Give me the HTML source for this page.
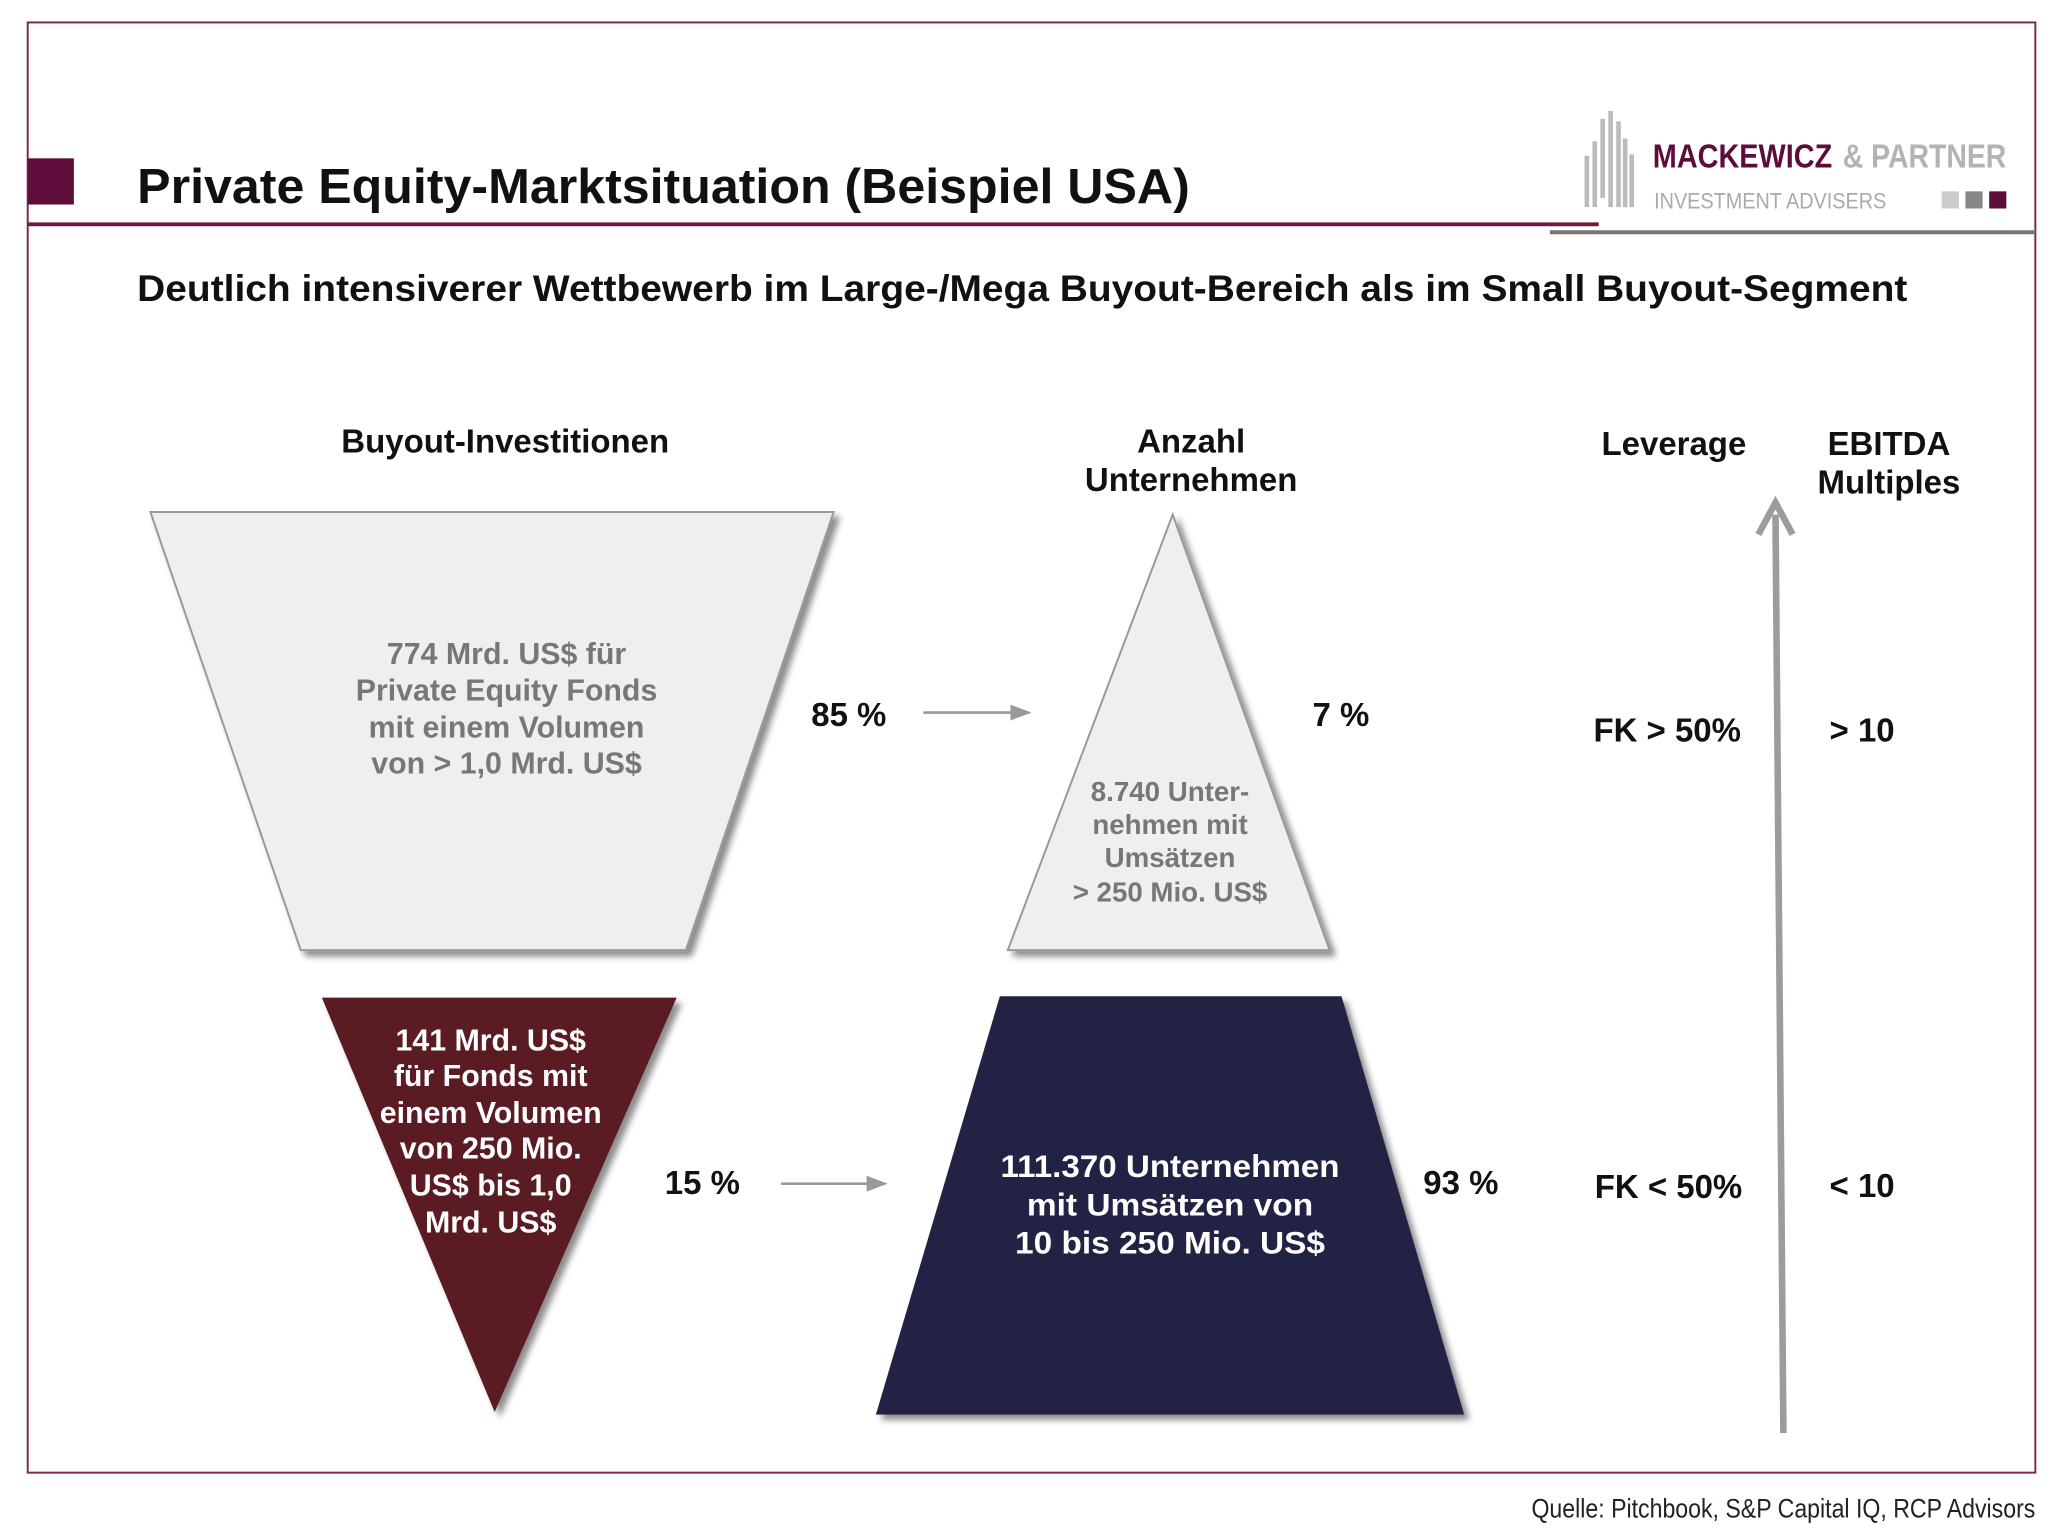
<!DOCTYPE html>
<html><head><meta charset="utf-8"><style>html,body{margin:0;padding:0;background:#fff}svg{display:block}</style></head><body>
<svg width="2067" height="1536" viewBox="0 0 1567 1164" preserveAspectRatio="none" xmlns="http://www.w3.org/2000/svg" font-family="Liberation Sans, sans-serif">
<defs><filter id="sh" x="-10%" y="-10%" width="130%" height="130%"><feDropShadow dx="4" dy="4" stdDeviation="2.5" flood-color="#000" flood-opacity="0.45"/></filter>
<marker id="ah" markerWidth="8" markerHeight="8" refX="7" refY="4" orient="auto"><path d="M0,1 L8,4 L0,7 z" fill="#999"/></marker></defs>
<rect x="21" y="17" width="1522" height="1099" fill="none" stroke="#7a2a55" stroke-width="1.5"/>
<rect x="21" y="120" width="35" height="35" fill="#5e0d3a"/>
<text x="104" y="154" font-size="37" font-weight="bold" fill="#111" textLength="798" lengthAdjust="spacingAndGlyphs">Private Equity-Marktsituation (Beispiel USA)</text>
<line x1="21" y1="170" x2="1212" y2="170" stroke="#6d1c45" stroke-width="3"/>
<line x1="1175" y1="176" x2="1543" y2="176" stroke="#777" stroke-width="3"/>
<g stroke="#bbb" stroke-width="3.5">
<line x1="1203" y1="157" x2="1203" y2="118"/><line x1="1209" y1="157" x2="1209" y2="107"/><line x1="1215" y1="150" x2="1215" y2="90"/><line x1="1221" y1="157" x2="1221" y2="84"/><line x1="1227" y1="157" x2="1227" y2="92"/><line x1="1232" y1="157" x2="1232" y2="105"/><line x1="1237" y1="157" x2="1237" y2="117"/></g>
<text x="1253" y="127" font-size="25" font-weight="bold" fill="#5e0d3a" textLength="136" lengthAdjust="spacingAndGlyphs">MACKEWICZ</text>
<text x="1397" y="127" font-size="25" font-weight="bold" fill="#b3b3b3" textLength="124" lengthAdjust="spacingAndGlyphs">&amp; PARTNER</text>
<text x="1254" y="158" font-size="17" fill="#aaa" textLength="176" lengthAdjust="spacingAndGlyphs">INVESTMENT ADVISERS</text>
<rect x="1472" y="145" width="13" height="13" fill="#ccc"/><rect x="1490" y="145" width="13" height="13" fill="#888"/><rect x="1508" y="145" width="13" height="13" fill="#5e0d3a"/>
<text x="104" y="228" font-size="28" font-weight="bold" fill="#111" textLength="1342" lengthAdjust="spacingAndGlyphs">Deutlich intensiverer Wettbewerb im Large-/Mega Buyout-Bereich als im Small Buyout-Segment</text>
<g font-size="25" font-weight="bold" fill="#111" text-anchor="middle">
<text x="383" y="343">Buyout-Investitionen</text>
<text x="903" y="343">Anzahl</text><text x="903" y="372">Unternehmen</text>
<text x="1269" y="345">Leverage</text>
<text x="1432" y="345">EBITDA</text><text x="1432" y="374">Multiples</text>
</g>
<polygon points="114,388 632,388 520,720 228,720" fill="#efefef" stroke="#999" stroke-width="1.5" filter="url(#sh)"/>
<polygon points="244,756 513,756 375,1070" fill="#5a1e22" filter="url(#sh)"/>
<polygon points="889,390 1008,720 764,720" fill="#efefef" stroke="#999" stroke-width="1.5" filter="url(#sh)"/>
<polygon points="758,755 1017,755 1110,1072 664,1072" fill="#232244" filter="url(#sh)"/>
<g font-size="23" font-weight="bold" fill="#777" text-anchor="middle">
<text x="384" y="503">774 Mrd. US$ für</text><text x="384" y="531">Private Equity Fonds</text><text x="384" y="559">mit einem Volumen</text><text x="384" y="586">von &gt; 1,0 Mrd. US$</text></g>
<g font-size="21" font-weight="bold" fill="#777" text-anchor="middle">
<text x="887" y="607">8.740 Unter-</text><text x="887" y="632">nehmen mit</text><text x="887" y="657">Umsätzen</text><text x="887" y="683">&gt; 250 Mio. US$</text></g>
<g font-size="23" font-weight="bold" fill="#fff" text-anchor="middle">
<text x="372" y="796">141 Mrd. US$</text><text x="372" y="823">für Fonds mit</text><text x="372" y="851">einem Volumen</text><text x="372" y="878">von 250 Mio.</text><text x="372" y="906">US$ bis 1,0</text><text x="372" y="934">Mrd. US$</text></g>
<g font-size="24" font-weight="bold" fill="#fff" text-anchor="middle">
<text x="887" y="892" textLength="257" lengthAdjust="spacingAndGlyphs">111.370 Unternehmen</text><text x="887" y="921" textLength="217" lengthAdjust="spacingAndGlyphs">mit Umsätzen von</text><text x="887" y="950" textLength="235" lengthAdjust="spacingAndGlyphs">10 bis 250 Mio. US$</text></g>
<g font-size="25" font-weight="bold" fill="#111">
<text x="615" y="550">85 %</text><text x="995" y="550">7 %</text>
<text x="504" y="905">15 %</text><text x="1079" y="905">93 %</text>
<text x="1208" y="562">FK &gt; 50%</text><text x="1387" y="562">&gt; 10</text>
<text x="1209" y="908">FK &lt; 50%</text><text x="1387" y="907">&lt; 10</text></g>
<line x1="700" y1="540" x2="780" y2="540" stroke="#999" stroke-width="2" marker-end="url(#ah)"/>
<line x1="592" y1="897" x2="671" y2="897" stroke="#999" stroke-width="2" marker-end="url(#ah)"/>
<line x1="1352" y1="1086" x2="1346" y2="390" stroke="#9a9ca0" stroke-width="5"/>
<polyline points="1333,405 1346,381 1359,405" fill="none" stroke="#9a9ca0" stroke-width="5"/>
<text x="1543" y="1150" font-size="20" fill="#222" text-anchor="end" textLength="382" lengthAdjust="spacingAndGlyphs">Quelle: Pitchbook, S&amp;P Capital IQ, RCP Advisors</text>
</svg>
</body></html>
